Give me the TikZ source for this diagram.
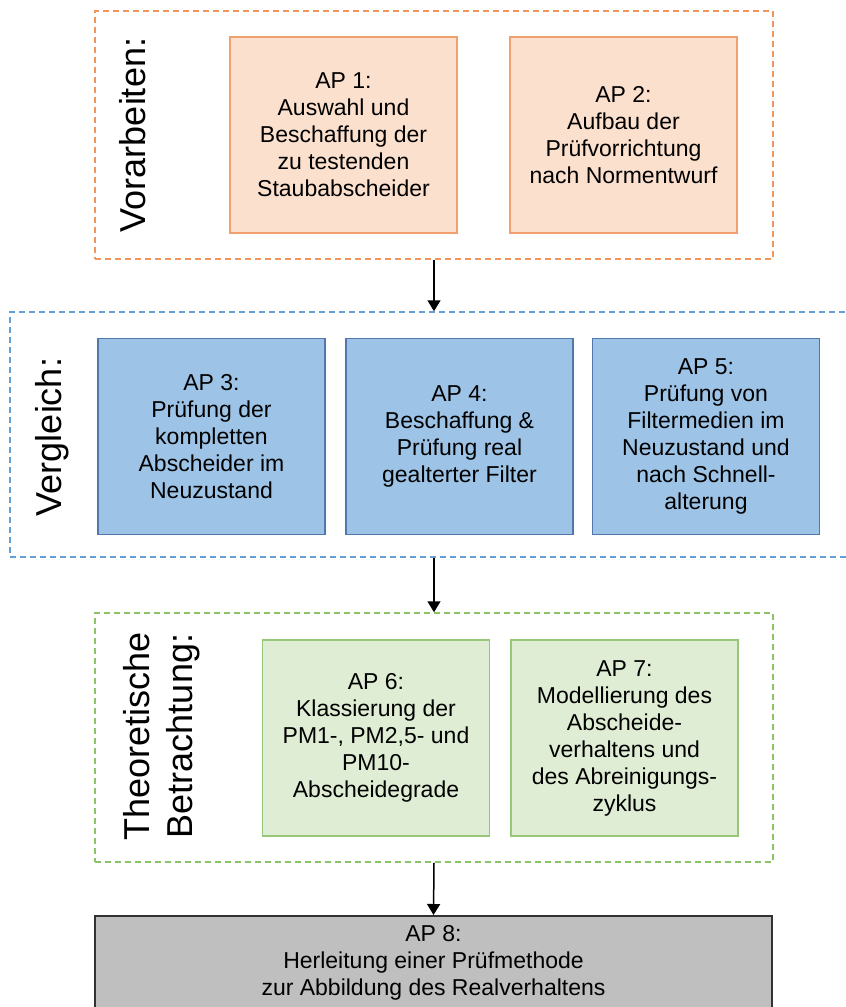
\documentclass[tikz,border=0pt]{standalone}
\usepackage{fontspec}
\setmainfont{Liberation Sans}
\usetikzlibrary{arrows.meta}
\definecolor{orDash}{RGB}{240,150,90}
\definecolor{orFill}{RGB}{251,224,206}
\definecolor{orLine}{RGB}{240,160,110}
\definecolor{blDash}{RGB}{100,160,215}
\definecolor{blFill}{RGB}{157,195,230}
\definecolor{blLine}{RGB}{80,120,170}
\definecolor{grDash}{RGB}{140,195,100}
\definecolor{grFill}{RGB}{223,237,212}
\definecolor{grLine}{RGB}{150,200,120}
\definecolor{gyFill}{RGB}{191,191,191}
\definecolor{gyLine}{RGB}{50,50,50}
\tikzset{
  grp/.style={draw, line width=1.5pt, dash pattern=on 6pt off 4pt, rectangle, inner sep=0pt},
  apbox/.style={draw, line width=1.5pt, rectangle, inner sep=0pt, align=center,
    minimum width=227pt, minimum height=196pt, font=\fontsize{23}{27}\selectfont},
  grplabel/.style={rotate=90, align=center, font=\fontsize{36}{43}\selectfont},
  arr/.style={line width=1.5pt, -{Triangle[width=13pt,length=11pt]}}
}
\begin{document}
\begin{tikzpicture}[x=1pt,y=-1pt]
\useasboundingbox (0,0) rectangle (846,1007);
% groups
\node[grp, draw=orDash, minimum width=678pt, minimum height=248pt] (g1) at (434,135) {};
\node[grp, draw=blDash, minimum width=880pt, minimum height=245pt] (g2) at (450,434.5) {};
\node[grp, draw=grDash, minimum width=678pt, minimum height=249pt] (g3) at (434,737.5) {};
% labels
\node[grplabel, anchor=base] (l1) at (145,135) {Vorarbeiten:};
\node[grplabel, anchor=base] (l2) at (61,437) {Vergleich:};
\node[grplabel] (l3) at (162,736) {Theoretische\\Betrachtung:};
% boxes
\node[apbox, draw=orLine, fill=orFill] (ap1) at (343.5,135) {AP 1:\\Auswahl und\\Beschaffung der\\zu testenden\\Staubabscheider};
\node[apbox, draw=orLine, fill=orFill] (ap2) at (623.5,135) {AP 2:\\Aufbau der\\Prüfvorrichtung\\nach Normentwurf};
\node[apbox, draw=blLine, fill=blFill] (ap3) at (211.5,436.5) {AP 3:\\Prüfung der\\kompletten\\Abscheider im\\Neuzustand};
\node[apbox, draw=blLine, fill=blFill] (ap4) at (459.5,436.5) {AP 4:\\Beschaffung \&\\Prüfung real\\gealterter Filter};
\node[apbox, draw=blLine, fill=blFill] (ap5) at (706,436.5) {AP 5:\\Prüfung von\\Filtermedien im\\Neuzustand und\\nach Schnell-\\alterung};
\node[apbox, draw=grLine, fill=grFill] (ap6) at (376,738) {AP 6:\\Klassierung der\\PM1-, PM2,5- und\\PM10-\\Abscheidegrade};
\node[apbox, draw=grLine, fill=grFill] (ap7) at (624.5,738) {AP 7:\\Modellierung des\\Abscheide-\\verhaltens und\\des Abreinigungs-\\zyklus};
\node[apbox, draw=gyLine, fill=gyFill, minimum width=677pt, minimum height=94pt, anchor=north] (ap8) at (433.5,915) {AP 8:\\Herleitung einer Prüfmethode\\zur Abbildung des Realverhaltens};
% arrows
\draw[arr] (g1.south) -- (g1.south |- g2.north);
\draw[arr] (g2.south -| g1.south) -- (g3.north);
\draw[arr] (g3.south) -- (ap8.north);
\end{tikzpicture}
\end{document}
